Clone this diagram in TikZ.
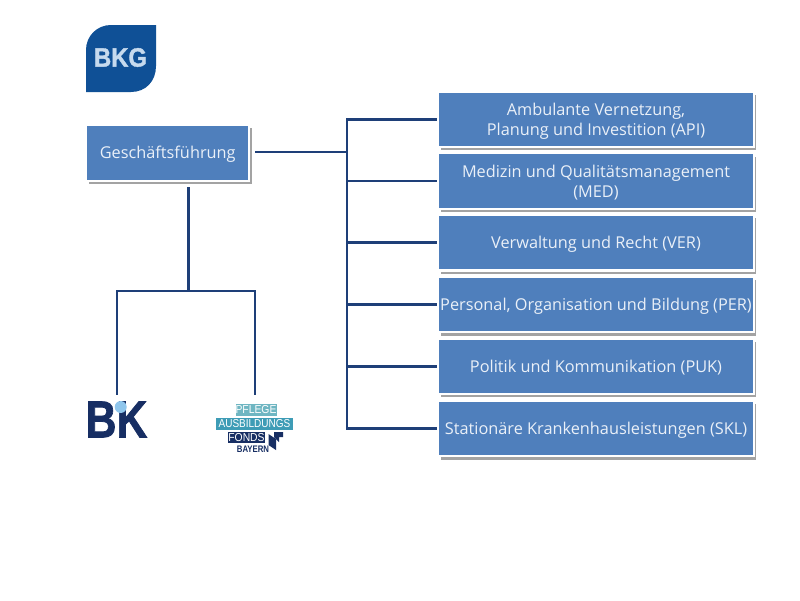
\documentclass[tikz,border=0pt]{standalone}
\usepackage{fontspec}
\setmainfont{Open Sans}
\newfontfamily\logofont{Liberation Sans}
\newfontfamily\heavyfont[FakeBold=1.5]{Liberation Sans Bold}
\usetikzlibrary{shadows}
\definecolor{boxblue}{HTML}{4F7FBC}
\definecolor{linenavy}{HTML}{1E3F78}
\definecolor{logoblue}{HTML}{0F5096}
\definecolor{logolight}{HTML}{C6DAEE}
\definecolor{bknavy}{HTML}{172E63}
\definecolor{bkdrop}{HTML}{8FC6EC}
\definecolor{tealone}{HTML}{6FB6C2}
\definecolor{tealtwo}{HTML}{3E9CB6}
\definecolor{boxtext}{HTML}{EAF0F8}
\newcommand\droptext[2][312pt]{\raisebox{-1.5pt}[\height][\depth]{\parbox{#1}{\centering #2}}}
\tikzset{
  orgbox/.style={draw=white,line width=2.4pt,fill=boxblue,text=boxtext,outer sep=0.8pt,
    inner sep=0pt,font=\fontsize{16.3}{20}\selectfont,
    general shadow={fill=black!36,shadow xshift=2.4pt,shadow yshift=-3.4pt}},
  dept/.style={orgbox,minimum width=315.5pt,minimum height=55.5pt},
  conn/.style={draw=linenavy,line width=2.8pt},
  logotext/.style={inner sep=0pt,outer sep=0pt},
  pill/.style={inner sep=0pt,outer sep=0pt,text=white,font=\logofont\fontsize{11.5}{12}\selectfont},
}
\begin{document}
\begin{tikzpicture}[x=1pt,y=-1pt]
\useasboundingbox (0,0) rectangle (800,600);
\fill[white] (0,0) rectangle (800,600);
% BKG logo
\fill[logoblue] (156,25) -- (156,66) .. controls (156,81) and (146,92) .. (131,92)
  -- (86,92) -- (86,50) .. controls (86,36) and (97,25) .. (111,25) -- cycle;
\node[logotext,text=logolight,font=\heavyfont\fontsize{26.5}{28}\selectfont] (bkg) at (120.5,57.5) {\scalebox{0.9}[1]{BKG}};
% boxes
\node[orgbox,minimum width=163pt,minimum height=56pt] (gf) at (167.7,153) {\droptext[158pt]{Geschäftsführung}};
\node[dept] (api) at (596,119.3) {\droptext{Ambulante Vernetzung,\\Planung und Investition (API)}};
\node[dept] (med) at (596,181) {\droptext{Medizin und Qualitätsmanagement\\(MED)}};
\node[dept] (ver) at (596,242.7) {\droptext{Verwaltung und Recht (VER)}};
\node[dept] (per) at (596,304.4) {\droptext{Personal, Organisation und Bildung (PER)}};
\node[dept] (puk) at (596,366.1) {\droptext{Politik und Kommunikation (PUK)}};
\node[dept] (skl) at (596,428.5) {\droptext{Stationäre Krankenhausleistungen (SKL)}};
% BK logo
\node[logotext,text=bknavy,font=\heavyfont\fontsize{52}{54}\selectfont] (bk) at (116.5,419.5) {\scalebox{0.82}[1]{BK}};
\fill[bkdrop] (120.7,407) circle (6);
% Pflege logo
\node[pill,fill=tealone,minimum width=41pt,minimum height=11.5pt] (pa) at (256,410) {\scalebox{0.9}[1]{PFLEGE}};
\node[pill,fill=tealtwo,minimum width=77pt,minimum height=12.5pt] (pb) at (254.5,424) {\scalebox{0.87}[1]{AUSBILDUNGS}};
\node[pill,fill=bknavy,minimum width=37pt,minimum height=11pt] (pc) at (246.5,437.5) {\scalebox{0.9}[1]{FONDS}};
\node[pill,text=bknavy,font=\logofont\bfseries\fontsize{9.5}{10}\selectfont] (pd) at (253,449.5) {\scalebox{0.82}[1]{BAYERN}};
\fill[bknavy] (268.5,434) -- (276,439) -- (276,450) -- (268.5,445) -- cycle;
\fill[bknavy] (274,432) -- (283,432) -- (283,437) -- (279,437) -- (279,442) -- (274,437) -- cycle;
% connectors
\coordinate (trunktop) at (347,119.5);
\coordinate (trunkbot) at (347,429);
\coordinate (gfj) at (347,152);
\coordinate (leftj) at (188.5,291);
\coordinate (bkcorner) at (117,291);
\coordinate (pfcorner) at (255,291);
\coordinate (bkend) at (117,394.5);
\coordinate (pfend) at (255,394.5);
\coordinate (gfr) at (255,152);
\coordinate (gfb) at (188.5,187);
\draw[conn] (gfr) -- (gfj);
\draw[conn,line cap=rect] (trunktop) -- (trunkbot);
\foreach \n in {api,med,ver,per,puk,skl}
  \draw[conn] (trunktop |- \n.west) -- (\n.west);
\draw[conn] (gfb) -- (leftj);
\draw[conn] (bkend) -- (bkcorner) -- (pfcorner) -- (pfend);
\end{tikzpicture}
\end{document}
